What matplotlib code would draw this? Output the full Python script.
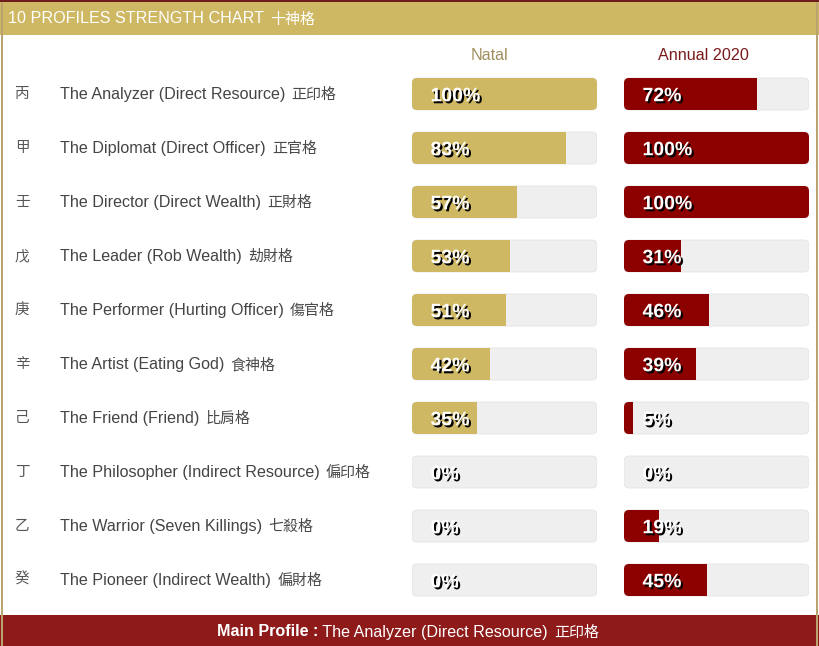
import matplotlib
matplotlib.use("Agg")
import matplotlib.pyplot as plt
import matplotlib.patheffects as pe
from matplotlib.patches import FancyBboxPatch, Rectangle

plt.rcParams['font.family'] = ['Liberation Sans', 'Noto Sans CJK TC', 'DejaVu Sans']

# data
stems = ['丙', '甲', '壬', '戊', '庚', '辛', '己', '丁', '乙', '癸']
profiles = [
    'The Analyzer (Direct Resource)',
    'The Diplomat (Direct Officer)',
    'The Director (Direct Wealth)',
    'The Leader (Rob Wealth)',
    'The Performer (Hurting Officer)',
    'The Artist (Eating God)',
    'The Friend (Friend)',
    'The Philosopher (Indirect Resource)',
    'The Warrior (Seven Killings)',
    'The Pioneer (Indirect Wealth)',
]
profiles_zh = ['正印格', '正官格', '正財格', '劫財格', '傷官格',
               '食神格', '比肩格', '偏印格', '七殺格', '偏財格']
natal = [100, 83, 57, 53, 51, 42, 35, 0, 0, 0]
annual = [72, 100, 100, 31, 46, 39, 5, 0, 19, 45]
series_names = ['Natal', 'Annual 2020']
title = '10 PROFILES STRENGTH CHART'
title_zh = '十神格'
main_label = 'Main Profile :'
main_value = ' The Analyzer (Direct Resource)'
main_value_zh = '正印格'

GOLD = '#cfb863'
RED = '#8c0000'
FOOTER = '#8e1a1a'
TRACK = '#efefef'
CJK = ['Noto Sans CJK TC']

W, H = 819, 646
fig = plt.figure(figsize=(W / 100, H / 100), dpi=100)

# background / layout axes in pixel units
bg = fig.add_axes([0, 0, 1, 1])
bg.set_xlim(0, W)
bg.set_ylim(H, 0)
bg.axis('off')

bg.add_patch(Rectangle((0, 0), W, 2, color='#6e1c1c', lw=0))
bg.add_patch(Rectangle((0, 2), W, 33, color=GOLD, lw=0))
bg.add_patch(Rectangle((0, 615), W, 31, color=FOOTER, lw=0))
bg.add_patch(Rectangle((1, 2), 2, 644, color='#b9a470', lw=0))
bg.add_patch(Rectangle((816, 2), 2, 644, color='#b9a470', lw=0))


def add_zh(anchor, zh, color):
    # chinese part follows the english text, a bit smaller
    return bg.annotate(zh, xy=(1, 0.5), xycoords=anchor, xytext=(4.5, -0.8),
                       textcoords='offset points', color=color, fontsize=10.8,
                       ha='left', va='center', family=CJK)


t = bg.text(8, 18.5, title, color='white', fontsize=11.6, va='center')
add_zh(t, title_zh, 'white')

row_top, row_h = 67, 54
n = len(profiles)
for i, (s, p, z) in enumerate(zip(stems, profiles, profiles_zh)):
    yc = row_top + row_h * (i + 0.5)
    bg.text(15, yc, s, color='#555555', fontsize=10.5, va='center', ha='left',
            family=CJK)
    t = bg.text(60, yc, p, color='#444444', fontsize=11.6, va='center')
    add_zh(t, z, '#4a4a4a')

bg.text(490, 55, series_names[0], color='#a08e5c', fontsize=11.6,
        ha='center', va='center')
bg.text(703, 55, series_names[1], color='#7a1a1a', fontsize=11.6,
        ha='center', va='center')

t1 = bg.text(217, 632, main_label, color='white', fontsize=11.6,
             fontweight='bold', ha='left', va='center')
t2 = bg.annotate(main_value, xy=(1, 0.5), xycoords=t1, color='white',
                 fontsize=11.6, ha='left', va='center')
add_zh(t2, main_value_zh, 'white')

shadow = [pe.SimplePatchShadow(offset=(1.5, -1.5), shadow_rgbFace='black',
                               alpha=1.0), pe.Normal()]


def bar_column(left_px, values, color):
    ax = fig.add_axes([left_px / W, 1 - (row_top + row_h * n) / H,
                       185 / W, row_h * n / H])
    ax.set_xlim(0, 100)
    ax.set_ylim(n - 0.5, -0.5)
    ax.axis('off')
    bh = 32 / row_h
    # corner radius about 5px in both directions
    px_x = 185 / 100
    rs = 5 / px_x
    aspect = px_x / row_h
    ys = range(n)
    bars = ax.barh(ys, values, height=bh, color=color, lw=0, zorder=2)
    for y, v, b in zip(ys, values, bars):
        track = FancyBboxPatch((0, y - bh / 2), 100, bh,
                               boxstyle=f'round,pad=0,rounding_size={rs}',
                               mutation_aspect=aspect, fc=TRACK, ec='#e4e4e4',
                               lw=0.6, zorder=1)
        ax.add_patch(track)
        b.set_clip_path(track)
        ax.text(10, y + 0.05, f'{v}%', color='white', fontsize=14,
                fontweight='bold', ha='left', va='center', zorder=3,
                path_effects=shadow)
    return ax


bar_column(412, natal, GOLD)
bar_column(624, annual, RED)

fig.savefig('out.png', dpi=100)
